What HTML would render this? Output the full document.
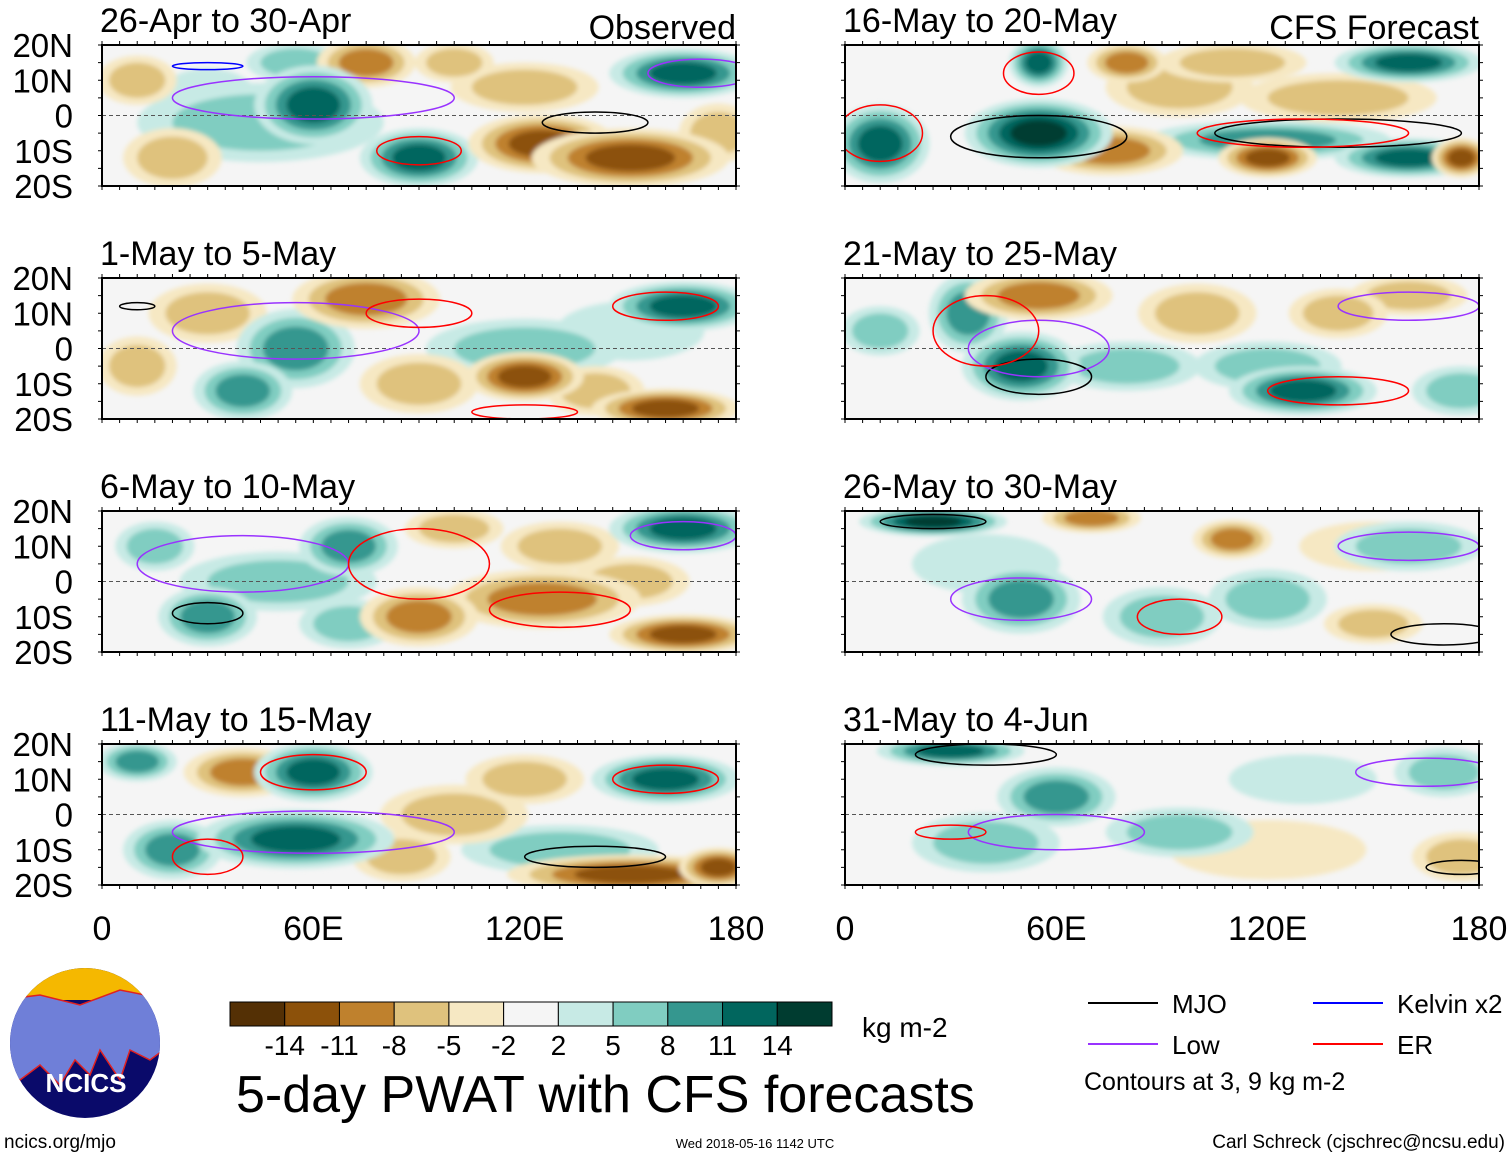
<!DOCTYPE html>
<html><head><meta charset="utf-8"><style>
body{margin:0;background:#fff;width:1510px;height:1158px;overflow:hidden;font-family:"Liberation Sans",sans-serif}
svg text{font-family:"Liberation Sans",sans-serif}
</style></head><body>
<svg id="fig" width="1510" height="1158" viewBox="0 0 1510 1158" xmlns="http://www.w3.org/2000/svg">
<defs><filter id="sm" x="-10%" y="-10%" width="120%" height="120%"><feGaussianBlur stdDeviation="2.5"/></filter>
<clipPath id="c0"><rect x="0" y="0" width="634" height="141"/></clipPath></defs>
<g id="panels"></g>
<g id="bottom"></g>
</svg>
<script>
const titles=["26-Apr to 30-Apr","1-May to 5-May","6-May to 10-May","11-May to 15-May","16-May to 20-May","21-May to 25-May","26-May to 30-May","31-May to 4-Jun"];
const latTicks=["20N","10N","0","10S","20S"];
const lonTicks=["0","60E","120E","180"];
const levels=[2,5,8,11,14];
const posColors=["#c7eae5","#80cdc1","#35978f","#01665e","#003c30"];
const negColors=["#f6e8c3","#dfc27d","#bf812d","#8c510a","#543005"];
const cbColors=["#543005","#8c510a","#bf812d","#dfc27d","#f6e8c3","#f5f5f5","#c7eae5","#80cdc1","#35978f","#01665e","#003c30"];
const cbLabels=["-14","-11","-8","-5","-2","2","5","8","11","14"];
// blobs per panel: [lon, lat, value, rxDeg, ryDeg]
const blobs0=[[60,3,11,12,8],[45,-2,5,25,8],[90,-12,11,12,6],[165,12,11,15,5],[55,15,5,10,4],[125,-8,-11,15,6],[150,-12,-11,20,6],[75,15,-8,10,5],[120,8,-5,15,5],[20,-12,-5,10,6],[100,15,-5,8,4],[10,10,-5,8,5],[30,5,2,10,6],[175,-5,-5,8,6]];
const blobs1=[[165,12,11,15,5],[55,0,8,12,8],[40,-12,8,10,6],[120,0,5,20,6],[75,14,-8,15,6],[120,-8,-11,12,5],[160,-17,-11,15,4],[90,-10,-5,12,6],[30,10,-5,12,6],[140,-12,-5,10,5],[10,-5,-5,8,6],[150,5,2,15,6]];
const blobs2=[[165,15,11,15,5],[70,10,8,10,6],[50,0,5,20,6],[30,-10,8,10,6],[15,10,5,8,5],[125,-5,-8,20,6],[165,-15,-11,15,4],[90,-10,-8,12,6],[130,10,-5,12,5],[100,15,-5,10,4],[150,0,-5,12,5],[70,-12,5,10,5]];
const blobs3=[[60,12,11,12,6],[55,-7,11,20,6],[160,10,11,15,5],[10,15,8,8,4],[130,-10,5,20,5],[20,-10,8,10,6],[150,-17,-11,25,4],[40,12,-8,12,5],[100,0,-5,15,6],[120,10,-5,12,5],[85,-12,-5,10,5],[175,-15,-11,8,4]];
const blobs4=[[55,-5,14,15,7],[55,15,11,6,5],[10,-8,11,10,8],[120,-7,8,25,4],[160,-12,11,15,4],[160,15,11,15,4],[75,-10,-8,15,5],[120,-12,-11,10,4],[95,8,-5,15,6],[140,5,-5,20,5],[175,-12,-11,6,4],[110,15,-5,15,4],[80,15,-8,8,4]];
const blobs5=[[50,-5,11,12,7],[35,10,8,8,8],[130,-12,11,15,5],[80,-5,5,15,5],[10,5,5,8,5],[175,-12,5,10,5],[55,15,-8,15,5],[100,10,-5,12,6],[160,15,-5,12,4],[140,10,-5,10,5],[120,-5,5,15,5]];
const blobs6=[[25,17,14,15,3],[50,-5,8,12,7],[90,-10,5,12,6],[160,10,5,15,5],[120,-5,5,12,6],[70,18,-8,10,3],[110,12,-8,8,4],[150,-12,-5,10,4],[150,10,-2,15,5],[40,5,2,15,6]];
const blobs7=[[30,18,11,15,3],[60,5,8,12,6],[40,-8,5,15,6],[95,-5,5,15,5],[170,12,5,10,5],[175,-12,-5,10,5],[120,-10,-2,20,6],[130,10,2,15,5]];
const allBlobs=[blobs0,blobs1,blobs2,blobs3,blobs4,blobs5,blobs6,blobs7];
// contours: [type, lon, lat, rxDeg, ryDeg]
const cont0=[["low",60,5,40,6],["er",90,-10,12,4],["mjo",140,-2,15,3],["kelvin",30,14,10,1],["low",170,12,15,4]];
const cont1=[["low",55,5,35,8],["er",90,10,15,4],["er",160,12,15,4],["er",120,-18,15,2],["mjo",10,12,5,1]];
const cont2=[["low",40,5,30,8],["er",90,5,20,10],["er",130,-8,20,5],["mjo",30,-9,10,3],["low",165,13,15,4]];
const cont3=[["low",60,-5,40,6],["er",60,12,15,5],["er",30,-12,10,5],["mjo",140,-12,20,3],["er",160,10,15,4]];
const cont4=[["mjo",55,-6,25,6],["er",10,-5,12,8],["er",55,12,10,6],["mjo",140,-5,35,4],["er",130,-5,30,4]];
const cont5=[["mjo",55,-8,15,5],["low",55,0,20,8],["er",40,5,15,10],["er",140,-12,20,4],["low",160,12,20,4]];
const cont6=[["mjo",25,17,15,2],["low",50,-5,20,6],["er",95,-10,12,5],["low",160,10,20,4],["mjo",170,-15,15,3]];
const cont7=[["mjo",40,17,20,3],["low",60,-5,25,5],["er",30,-5,10,2],["low",165,12,20,4],["mjo",175,-15,10,2]];
const allCont=[cont0,cont1,cont2,cont3,cont4,cont5,cont6,cont7];
const contColor={mjo:"#000",low:"#9933ff",er:"#ff0000",kelvin:"#0000ff"};
const NS="http://www.w3.org/2000/svg";
const PW=634,PH=141;
const colX=[102,845],rowY=[45,278,511,744];
const xs=lon=>lon/180*PW;
const ys=lat=>(20-lat)/40*PH;
function mk(tag,attrs,parent){const e=document.createElementNS(NS,tag);for(const k in attrs)e.setAttribute(k,attrs[k]);parent.appendChild(e);return e;}
const root=document.getElementById('panels');
for(let p=0;p<8;p++){
  const cx=colX[Math.floor(p/4)],cy=rowY[p%4];
  const g=mk('g',{transform:`translate(${cx},${cy})`},root);
  
  
  mk('rect',{x:0,y:0,width:PW,height:PH,fill:'#f5f5f5'},g);
  const f=mk('g',{'clip-path':'url(#c0)',filter:'url(#sm)'},g);
  const bl=allBlobs[p].slice().sort((a,b)=>Math.abs(a[2])-Math.abs(b[2]));
  for(const b of bl){
    const v=b[2],av=Math.abs(v);
    const n=levels.filter(l=>av>=l).length;
    for(let i=0;i<n;i++){
      const s=1.4*(1-i/(n+1.5));
      const e=mk('ellipse',{cx:xs(b[0]),cy:ys(b[1]),rx:xs(b[3])*s,ry:(b[4]/40*PH)*s,fill:(v>0?posColors:negColors)[i]},f);
      
      
    }
  }
  mk('line',{x1:0,x2:PW,y1:ys(0),y2:ys(0),stroke:'#555','stroke-dasharray':'4,3','stroke-width':1},g);
  const cg=mk('g',{'clip-path':'url(#c0)'},g);
  for(const c of allCont[p]){
    const e=mk('ellipse',{cx:xs(c[1]),cy:ys(c[2]),rx:xs(c[3]),ry:c[4]/40*PH,fill:'none',stroke:contColor[c[0]],'stroke-width':1.5},cg);
    
    
  }
  mk('rect',{x:0,y:0,width:PW,height:PH,fill:'none',stroke:'#000','stroke-width':2},g);
  for(let i=0;i<=36;i++){const x=i*PW/36;mk('line',{x1:x,x2:x,y1:0,y2:-4,stroke:'#000'},g);mk('line',{x1:x,x2:x,y1:PH,y2:PH+4,stroke:'#000'},g);}
  for(let i=0;i<=8;i++){const y=i*PH/8;mk('line',{x1:0,x2:-4,y1:y,y2:y,stroke:'#000'},g);mk('line',{x1:PW,x2:PW+4,y1:y,y2:y,stroke:'#000'},g);}
  const t=mk('text',{x:-2,y:-13,'font-size':34},g);t.textContent=titles[p];
  
  if(p==0){const o=mk('text',{x:PW,y:-6,'font-size':34,'text-anchor':'end'},g);o.textContent='Observed';}
  if(p==4){const o=mk('text',{x:PW,y:-6,'font-size':34,'text-anchor':'end'},g);o.textContent='CFS Forecast';}
  if(p<4){latTicks.forEach((l,i)=>{const tt=mk('text',{x:-29,y:i*PH/4+12,'font-size':33,'text-anchor':'end'},g);
    tt.textContent=l;});}
  if(p%4==3){lonTicks.forEach((l,i)=>{const tt=mk('text',{x:i*PW/3,y:PH+55,'font-size':34,'text-anchor':'middle'},g);tt.textContent=l;});}
}
const bot=document.getElementById('bottom');
const cbg=mk('g',{},bot);
const cw=(832-230)/11;
cbColors.forEach((c,i)=>mk('rect',{x:230+i*cw,y:1002,width:cw,height:24,fill:c,stroke:'#000','stroke-width':1},cbg));
cbLabels.forEach((l,i)=>{const t=mk('text',{x:230+(i+1)*cw,y:1055,'font-size':28,'text-anchor':'middle'},cbg);t.textContent=l;});
const u=mk('text',{x:862,y:1037,'font-size':28},bot);u.textContent='kg m-2';
const ttl=mk('text',{x:236,y:1112,'font-size':52},bot);ttl.textContent='5-day PWAT with CFS forecasts';
const lg=mk('g',{},bot);
[["MJO","#000",1088,1003],["Low","#9933ff",1088,1044],["Kelvin x2","#0000ff",1313,1003],["ER","#ff0000",1313,1044]].forEach(a=>{
  mk('line',{x1:a[2],x2:a[2]+70,y1:a[3],y2:a[3],stroke:a[1],'stroke-width':2},lg);
  const t=mk('text',{x:a[2]+84,y:a[3]+10,'font-size':26},lg);t.textContent=a[0];});
const ct=mk('text',{x:1084,y:1090,'font-size':25},lg);ct.textContent='Contours at 3, 9 kg m-2';
const lo=mk('g',{},bot);
mk('clipPath',{id:'lc'},lo);const le=mk('ellipse',{cx:85,cy:1043,rx:75,ry:75},document.getElementById('lc'));
const lgc=mk('g',{'clip-path':'url(#lc)'},lo);
mk('rect',{x:0,y:960,width:170,height:170,fill:'#0a0a6a'},lgc);
mk('rect',{x:0,y:960,width:170,height:40,fill:'#f5b800'},lgc);
mk('path',{d:'M0 1000 L40 995 L80 1005 L120 990 L170 1000 L170 1045 L150 1060 L130 1050 L120 1080 L100 1050 L90 1075 L75 1060 L60 1085 L40 1065 L20 1080 L0 1070Z',fill:'#6f7fd8',stroke:'#e02020','stroke-width':1.5},lgc);
const nt=mk('text',{x:86,y:1092,'font-size':26,'font-weight':'bold',fill:'#fff','text-anchor':'middle'},lo);nt.textContent='NCICS';
[["ncics.org/mjo",4,1148,19,"start"],["Wed 2018-05-16 1142 UTC",755,1148,13,"middle"],["Carl Schreck (cjschrec@ncsu.edu)",1505,1148,19,"end"]].forEach(a=>{
  const t=mk('text',{x:a[1],y:a[2],'font-size':a[3],'text-anchor':a[4]},bot);t.textContent=a[0];
  });
</script>
</body></html>
